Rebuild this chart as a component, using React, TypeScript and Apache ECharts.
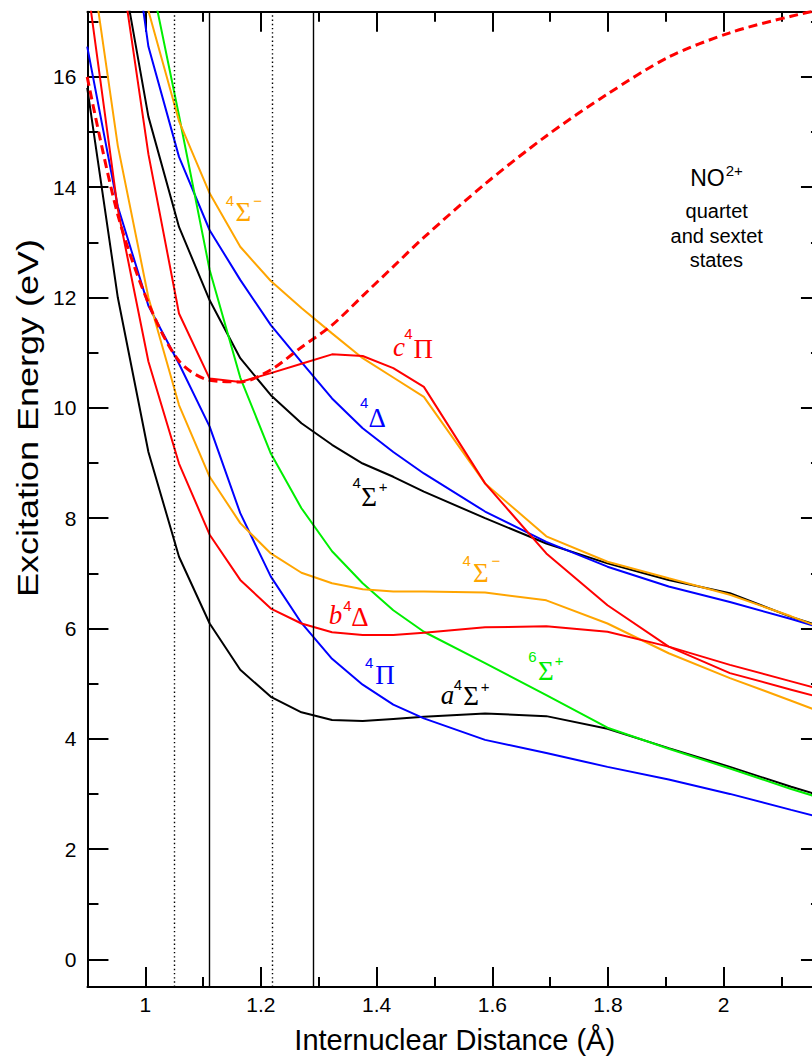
import React, { useEffect, useRef } from "react";
import * as echarts from "echarts";

// Internuclear distances (Å) at which the potential curves were computed
const R = [0.8996, 0.9525, 1.0054, 1.0583, 1.1113, 1.1642, 1.2171, 1.27, 1.3229, 1.3759, 1.4288, 1.4817, 1.5875, 1.6934, 1.7992, 1.905, 2.0109, 2.1167, 2.2225];

// Excitation energies (eV) of each NO2+ state
const a4SigmaPlus = [15.8, 12.0, 9.2, 7.3, 6.09, 5.25, 4.76, 4.48, 4.34, 4.32, 4.36, 4.4, 4.46, 4.41, 4.18, 3.83, 3.49, 3.13, 2.8];
const sigmaPlus4 = [22.0, 18.4, 15.28, 13.28, 11.95, 10.9, 10.23, 9.72, 9.33, 8.99, 8.75, 8.48, 8.0, 7.54, 7.18, 6.88, 6.64, 6.21, 5.85];
const pi4 = [16.55, 13.65, 11.85, 10.8, 9.66, 8.09, 6.94, 6.1, 5.45, 4.98, 4.62, 4.37, 3.98, 3.74, 3.49, 3.26, 3.0, 2.71, 2.43];
const delta4 = [24.0, 20.5, 16.55, 14.55, 13.22, 12.32, 11.5, 10.83, 10.17, 9.63, 9.2, 8.81, 8.12, 7.57, 7.12, 6.76, 6.48, 6.17, 5.84];
const c4Pi = [22.0, 18.4, 14.6, 11.71, 10.53, 10.47, 10.63, 10.8, 10.97, 10.94, 10.72, 10.38, 8.63, 7.36, 6.42, 5.67, 5.19, 4.89, 4.59];
const b4Delta = [17.7, 13.6, 10.84, 8.99, 7.7, 6.88, 6.36, 6.09, 5.93, 5.88, 5.88, 5.92, 6.02, 6.04, 5.94, 5.67, 5.34, 5.04, 4.74];
const upperSigmaMinus4 = [24.0, 20.5, 17.2, 15.2, 13.89, 12.92, 12.3, 11.81, 11.35, 10.9, 10.55, 10.2, 8.63, 7.67, 7.21, 6.91, 6.61, 6.22, 5.8];
const lowerSigmaMinus4 = [18.6, 14.75, 12.0, 10.05, 8.75, 7.91, 7.36, 7.01, 6.82, 6.71, 6.67, 6.67, 6.65, 6.51, 6.09, 5.55, 5.1, 4.69, 4.27];
const sextetSigmaPlus = [null, null, 18.0, 15.3, 12.5, 10.55, 9.17, 8.18, 7.4, 6.82, 6.33, 5.94, 5.37, 4.79, 4.2, 3.82, 3.46, 3.09, 2.75];
const groundState = [16.0, 13.5, 11.9, 10.85, 10.5, 10.47, 10.69, 11.1, 11.5, 12.03, 12.56, 13.09, 14.06, 14.93, 15.69, 16.36, 16.8, 17.1, 17.35];

// Vertical reference distances (Å)
const dottedLines = [1.05, 1.22];
const solidLines = [1.11, 1.295];

// Axis ticks
const xMajor = [1, 1.2, 1.4, 1.6, 1.8, 2];
const xMinor = [1.1, 1.3, 1.5, 1.7, 1.9, 2.1];
const yMajor = [0, 2, 4, 6, 8, 10, 12, 14, 16];
const yMinor = [1, 3, 5, 7, 9, 11, 13, 15, 17];

const X_MIN = 0.9;
const X_MAX = 2.17;
const Y_MIN = -0.5;
const Y_MAX = 17.18;

const RED = "#ff0000";
const BLUE = "#0000ff";
const GREEN = "#00ee00";
const ORANGE = "#ffa500";
const BLACK = "#000000";

const SANS = '"Liberation Sans", Arial, Helvetica, sans-serif';
const SERIF = '"Liberation Serif", "Times New Roman", serif';

const pairs = (vals: (number | null)[]) =>
  R.map((r, i) => [r, vals[i]] as [number, number | null]).filter((p) => p[1] !== null);

function curve(name: string, vals: (number | null)[], color: string, extra: any = {}) {
  return {
    name,
    type: "line",
    data: pairs(vals),
    symbol: "none",
    clip: true,
    lineStyle: { color, width: 2 },
    z: 3,
    ...extra,
  };
}

function txt(x: number, y: number, text: string, color: string, font: string) {
  return {
    type: "text",
    x,
    y,
    z: 10,
    style: {
      text,
      fill: color,
      font,
      align: "center",
      verticalAlign: "middle",
      textAlign: "center",
      textVerticalAlign: "middle",
    },
  };
}

const greek = (x: number, y: number, t: string, c: string) => txt(x, y, t, c, `27px ${SERIF}`);
const ital = (x: number, y: number, t: string, c: string) => txt(x, y, t, c, `italic 27px ${SERIF}`);
const sup = (x: number, y: number, t: string, c: string) => txt(x, y, t, c, `15px ${SANS}`);

function axisX(position: "top" | "bottom", ticks: number[], len: number, withLabels: boolean, withLine: boolean, extra: any = {}) {
  return {
    type: "value",
    position,
    min: X_MIN,
    max: X_MAX,
    axisLine: { show: withLine, onZero: false, lineStyle: { color: BLACK, width: 2 } },
    axisTick: { show: true, inside: true, length: len, customValues: ticks, lineStyle: { color: BLACK, width: 2 } },
    axisLabel: withLabels
      ? { show: true, customValues: ticks, color: BLACK, fontSize: 21, fontFamily: SANS, margin: 7 }
      : { show: false },
    splitLine: { show: false },
    ...extra,
  };
}

function axisY(position: "left" | "right", ticks: number[], len: number, withLabels: boolean, withLine: boolean) {
  return {
    type: "value",
    position,
    min: Y_MIN,
    max: Y_MAX,
    axisLine: { show: withLine, onZero: false, lineStyle: { color: BLACK, width: 2 } },
    axisTick: { show: true, inside: true, length: len, customValues: ticks, lineStyle: { color: BLACK, width: 2 } },
    axisLabel: withLabels
      ? { show: true, customValues: ticks, color: BLACK, fontSize: 21, fontFamily: SANS, margin: 11 }
      : { show: false },
    splitLine: { show: false },
  };
}

export default function App() {
  const ref = useRef<HTMLDivElement>(null);

  useEffect(() => {
    if (!ref.current) return;
    const chart = echarts.init(ref.current, undefined, { renderer: "svg" });

    const refLineData = [
      ...dottedLines.map((v) => ({ xAxis: v, lineStyle: { type: [1.4, 2.8], width: 1.4, color: BLACK } })),
      ...solidLines.map((v) => ({ xAxis: v, lineStyle: { type: "solid", width: 1.4, color: BLACK } })),
    ];

    chart.setOption({
      animation: false,
      backgroundColor: "#ffffff",
      grid: {
        left: 87.45,
        top: 11.84,
        width: 734.5,
        height: 975.1,
        containLabel: false,
        outerBoundsMode: "none",
      },
      xAxis: [
        axisX("bottom", xMajor, 20, true, true, {
          name: "Internuclear Distance (Å)",
          nameLocation: "middle",
          nameGap: 39,
          nameTextStyle: { color: BLACK, fontSize: 29, fontFamily: SANS },
        }),
        axisX("bottom", xMinor, 10, false, false),
        axisX("top", xMajor, 20, false, true),
        axisX("top", xMinor, 10, false, false),
      ],
      yAxis: [
        axisY("left", yMajor, 21, true, true),
        axisY("left", yMinor, 11, false, false),
        axisY("right", yMajor, 21, false, true),
        axisY("right", yMinor, 11, false, false),
      ],
      series: [
        curve("a4Σ+", a4SigmaPlus, BLACK, {
          markLine: { silent: true, symbol: ["none", "none"], label: { show: false }, data: refLineData },
        }),
        curve("4Σ+", sigmaPlus4, BLACK),
        curve("4Π", pi4, BLUE),
        curve("4Δ", delta4, BLUE),
        curve("6Σ+", sextetSigmaPlus, GREEN),
        curve("4Σ− (upper)", upperSigmaMinus4, ORANGE),
        curve("4Σ− (lower)", lowerSigmaMinus4, ORANGE),
        curve("b4Δ", b4Delta, RED),
        curve("c4Π", c4Pi, RED),
        curve("X", groundState, RED, {
          smooth: 0.3,
          lineStyle: { color: RED, width: 3, type: [9, 5] },
          z: 4,
        }),
      ],
      graphic: [
        {
          type: "text",
          x: 28,
          y: 418,
          rotation: Math.PI / 2,
          scaleX: 1.2,
          z: 10,
          style: {
            text: "Excitation Energy (eV)",
            fill: BLACK,
            font: `30px ${SANS}`,
            align: "center",
            verticalAlign: "middle",
            textAlign: "center",
            textVerticalAlign: "middle",
          },
        },
        // upper 4Σ−
        sup(230, 200, "4", ORANGE),
        greek(243.3, 211.7, "Σ", ORANGE),
        sup(257.5, 200, "−", ORANGE),
        // c4Π
        ital(399, 347, "c", RED),
        sup(408.3, 333, "4", RED),
        greek(423.3, 348.7, "Π", RED),
        // 4Δ
        sup(364.2, 402.5, "4", BLUE),
        greek(377.2, 418, "Δ", BLUE),
        // 4Σ+
        sup(356.7, 482.5, "4", BLACK),
        greek(369.2, 496.7, "Σ", BLACK),
        sup(383, 486.7, "+", BLACK),
        // lower 4Σ−
        sup(466.7, 560, "4", ORANGE),
        greek(480.8, 573.3, "Σ", ORANGE),
        sup(495.8, 560, "−", ORANGE),
        // b4Δ
        ital(335.5, 614.7, "b", RED),
        sup(347.5, 605, "4", RED),
        greek(360, 616.7, "Δ", RED),
        // 4Π
        sup(369.2, 662.5, "4", BLUE),
        greek(385, 674.7, "Π", BLUE),
        // a4Σ+
        ital(447.5, 694.5, "a", BLACK),
        sup(457.8, 684.2, "4", BLACK),
        greek(471.2, 696.2, "Σ", BLACK),
        sup(485, 686.7, "+", BLACK),
        // 6Σ+
        sup(532.5, 656.7, "6", GREEN),
        greek(545.8, 670.8, "Σ", GREEN),
        sup(559.2, 660, "+", GREEN),
        // NO2+ caption
        txt(707.5, 178.3, "NO", BLACK, `23px ${SANS}`),
        txt(734.2, 170, "2+", BLACK, `15px ${SANS}`),
        txt(716.7, 211, "quartet", BLACK, `20px ${SANS}`),
        txt(716.7, 236, "and sextet", BLACK, `20px ${SANS}`),
        txt(716.3, 260, "states", BLACK, `20px ${SANS}`),
      ],
    });

    return () => chart.dispose();
  }, []);

  return (
    <div style={{ position: "fixed", left: 0, top: 0, width: 812, height: 1058, overflow: "hidden", background: "#fff" }}>
      <div ref={ref} style={{ width: 860, height: 1058 }} />
    </div>
  );
}
